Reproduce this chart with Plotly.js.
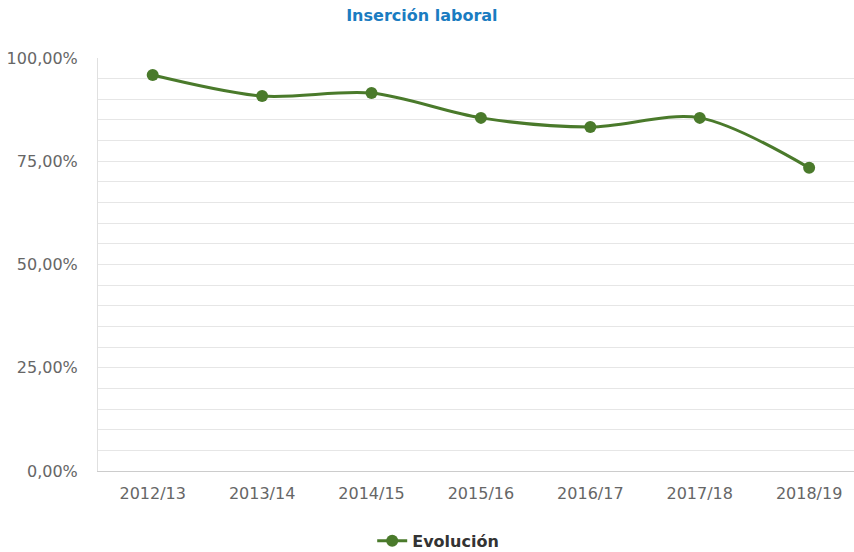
<!DOCTYPE html>
<html>
<head>
<meta charset="utf-8">
<script src="https://cdn.plot.ly/plotly-3.0.1.min.js"></script>
<style>html,body{margin:0;padding:0;background:#fff;}#chart{width:854px;height:552px;}</style>
</head>
<body>
<div id="chart"></div>
<script>
const categories = ["2012/13","2013/14","2014/15","2015/16","2016/17","2017/18","2018/19"];
const evolucion = [95.9, 90.8, 91.5, 85.5, 83.3, 85.5, 73.4];
const yTickVals = [0, 25, 50, 75, 100];
const yTickText = ["0,00%","25,00%","50,00%","75,00%","100,00%"];

const trace = {
  x: categories.map((c,i)=>i),
  y: evolucion,
  type: 'scatter',
  mode: 'lines+markers',
  name: 'Evolución',
  line: {shape: 'spline', smoothing: 0.9, color: '#4a7a2b', width: 3},
  marker: {size: 12, color: '#4a7a2b'},
  hoverinfo: 'skip'
};

const layout = {
  width: 854, height: 552,
  margin: {l: 98, r: 0, t: 58, b: 81, autoexpand: false},
  paper_bgcolor: '#fff', plot_bgcolor: '#fff',
  font: {family: 'DejaVu Sans, Verdana, sans-serif', color: '#666'},
  title: {text: '<b>Inserción laboral</b>', x: 0.494, xanchor: 'center', y: 0.972, yanchor: 'middle',
          font: {size: 16, color: '#1a7cc1', family: 'DejaVu Sans, Verdana, sans-serif'}},
  xaxis: {
    range: [-0.5, 6.41],
    tickvals: categories.map((c,i)=>i),
    ticktext: categories,
    showgrid: false, zeroline: false,
    showline: true, linecolor: '#ccc', linewidth: 1,
    ticks: '', ticklabelstandoff: 8, automargin: false,
    tickfont: {size: 16, color: '#666'},
    fixedrange: true
  },
  yaxis: {
    range: [0, 100],
    tickvals: yTickVals,
    ticktext: yTickText,
    showgrid: true, gridcolor: '#e6e6e6', gridwidth: 1,
    minor: {dtick: 5, tick0: 0, showgrid: true, gridcolor: '#e6e6e6', gridwidth: 1, ticks: ''},
    zeroline: false,
    showline: true, linecolor: '#e0e0e0', linewidth: 1,
    ticks: '', ticklabelstandoff: 16, automargin: false,
    tickfont: {size: 16, color: '#666'},
    fixedrange: true
  },
  showlegend: true,
  legend: {orientation: 'h', x: 0.45, xanchor: 'center', yref: 'container', y: 0.02, yanchor: 'middle',
           font: {size: 16, color: '#333', family: 'DejaVu Sans, Verdana, sans-serif', weight: 'bold'},
           itemwidth: 30}
};

Plotly.newPlot('chart', [trace], layout, {displayModeBar: false, staticPlot: true});
</script>
</body>
</html>
